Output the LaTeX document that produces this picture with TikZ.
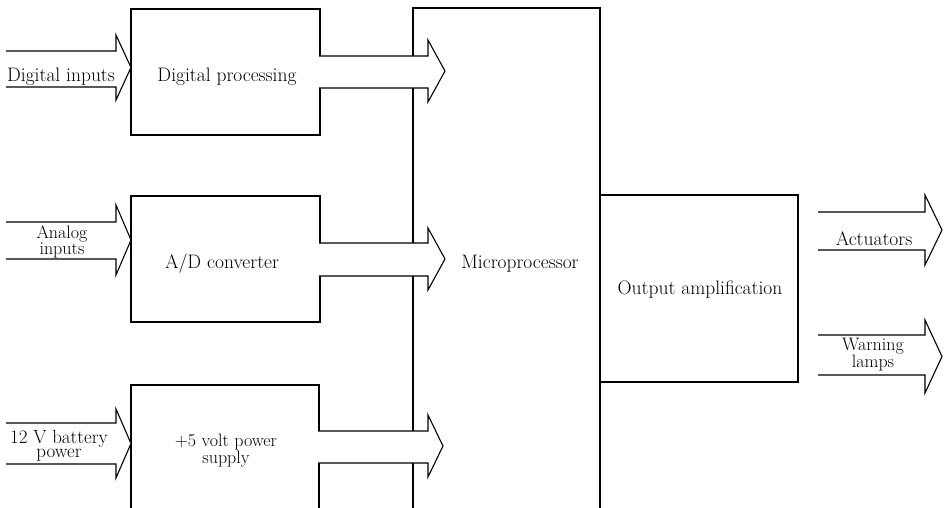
\documentclass[tikz,border=0pt]{standalone}
\begin{document}
\begin{tikzpicture}[x=1pt,y=-1pt,
  box/.style={draw, line width=1.1pt},
  barrow/.style={draw, fill=white, line width=1.1pt, line join=miter},
  lbl/.style={font=\fontsize{19.5}{14}\selectfont, align=center, inner sep=0pt},
  lbltwo/.style={font=\fontsize{18}{14}\selectfont, align=center, inner sep=0pt}]
\newcommand\blockarrow[7]{\path[barrow] (#1,#4) -- (#2,#4) -- (#2,#6) -- (#3,{(#6+#7)/2}) -- (#2,#7) -- (#2,#5) -- (#1,#5);}
\useasboundingbox (0,0) rectangle (946,508);
% blocks
\draw[box] (131,9) rectangle (320,135);
\draw[box] (131,196) rectangle (320,322);
\draw[box] (131,508) -- (131,385) -- (319,385) -- (319,508);
\draw[box] (413,508) -- (413,8) -- (600,8) -- (600,508);
\draw[box] (600,195) rectangle (798,382);
% block arrows
\blockarrow{6}{116}{131}{51}{87}{35}{100}
\blockarrow{319}{428}{445}{56}{88}{40}{102}
\blockarrow{6}{116}{131}{222}{259}{205}{275}
\blockarrow{319}{428}{445}{243}{276}{228}{290}
\blockarrow{6}{116}{131}{423}{464}{409}{478}
\blockarrow{318}{428}{443}{431}{463}{415}{477}
\blockarrow{818}{925}{942}{212}{250}{195}{265}
\blockarrow{818}{925}{942}{335}{375}{320}{393}
% labels
\node[lbl, anchor=base] (din) at (61,82) {Digital inputs};
\node[lbl, anchor=base] (dp) at (227,82) {Digital processing};
\node[lbltwo] (ain) at (62,242) {Analog\\inputs};
\node[lbl, anchor=base] (ad) at (222,268) {A/D converter};
\node[lbltwo, font=\fontsize{19}{14}\selectfont] (bat) at (59,446) {12 V battery\\power};
\node[lbltwo] (ps) at (226,451) {+5 volt power\\supply};
\node[lbl, anchor=base] (mp) at (520,268) {Microprocessor};
\node[lbl, anchor=base] (oa) at (700,294) {Output amplification};
\node[lbl, anchor=base] (act) at (874,245) {Actuators};
\node[lbltwo] (wl) at (873,355) {Warning\\lamps};
\end{tikzpicture}
\end{document}
